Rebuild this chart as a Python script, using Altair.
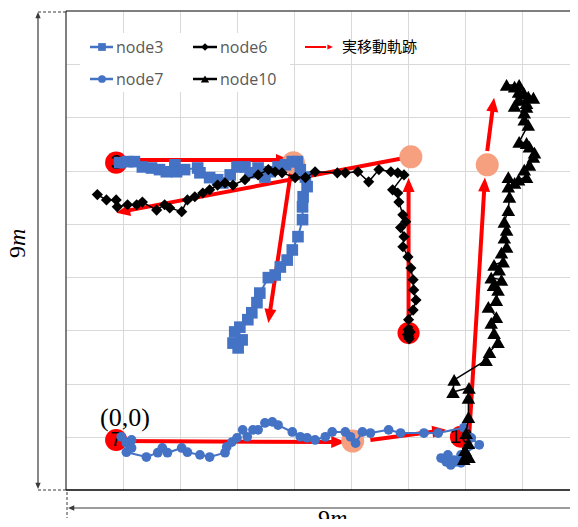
import math
import altair as alt
import pandas as pd

W, H = 504, 479
PXU = 57.0                 # pixels per metre horizontally (grid spacing)
XMAX = W / PXU             # visible part of the 9 m field (right edge is cut by the page)
YMAX = 9

# ---- measured trajectories (metres, grid = 1 m) ----
node3_x = [0.94, 1.08, 1.20, 1.34, 1.50, 1.64, 1.76, 1.91, 1.94, 2.08, 2.31, 2.35, 2.52, 2.66, 2.75,
           2.88, 3.00, 3.14, 3.23, 3.37, 3.49, 3.58, 3.72, 3.85, 3.97, 4.06, 4.11, 4.20, 4.23, 4.16,
           4.15, 4.15, 4.07, 3.97, 3.88, 3.76, 3.67, 3.55, 3.40, 3.35, 3.26, 3.19, 3.05, 2.96, 3.09,
           2.93, 3.02]
node3_y = [6.15, 6.17, 6.17, 6.07, 6.05, 6.02, 5.98, 6.11, 5.98, 6.02, 6.05, 5.96, 5.87, 5.83, 5.77,
           5.92, 6.07, 6.07, 5.96, 6.05, 5.88, 5.98, 6.07, 6.11, 6.17, 6.17, 6.02, 5.88, 5.70, 5.51,
           5.32, 5.08, 4.76, 4.51, 4.32, 4.19, 4.04, 3.99, 3.70, 3.52, 3.33, 3.20, 3.06, 2.97, 2.82,
           2.76, 2.67]

node6_x = [6.02, 5.99, 6.04, 6.01, 6.00, 6.01, 6.09, 6.14, 6.10, 6.09, 6.05, 6.00, 5.91, 5.93, 5.87,
           5.96, 5.91, 5.84, 5.82, 5.73, 5.93, 5.82, 5.70, 5.49, 5.31, 5.12, 4.90, 4.76, 4.37, 4.20,
           4.02, 3.79, 3.67, 3.55, 3.37, 3.14, 2.93, 2.79, 2.66, 2.52, 2.40, 2.26, 2.13, 2.03, 1.82,
           1.73, 1.59, 1.34, 1.24, 1.08, 0.90, 0.88, 0.71, 0.55]
node6_y = [2.84, 2.92, 2.97, 2.88, 3.01, 3.20, 3.38, 3.57, 3.76, 3.95, 4.17, 4.38, 4.57, 4.76, 4.93,
           5.04, 5.17, 5.41, 5.58, 5.64, 5.92, 5.96, 5.98, 6.02, 5.79, 5.98, 5.96, 5.96, 5.98, 5.87,
           5.87, 5.96, 5.98, 6.02, 5.92, 5.83, 5.73, 5.77, 5.73, 5.64, 5.58, 5.51, 5.45, 5.23, 5.30,
           5.36, 5.26, 5.41, 5.36, 5.36, 5.32, 5.45, 5.45, 5.55]

node7_x = [0.97, 1.15, 1.06, 1.15, 1.06, 1.41, 1.61, 1.69, 1.78, 2.03, 2.13, 2.35, 2.52, 2.79, 2.82,
           2.91, 3.00, 3.10, 3.18, 3.28, 3.37, 3.49, 3.62, 3.72, 3.97, 4.11, 4.23, 4.37, 4.55, 4.67,
           4.90, 4.99, 5.08, 5.20, 5.34, 5.66, 5.87, 6.28, 6.53, 6.98, 7.11, 7.25, 6.93, 6.81, 6.70,
           6.58, 6.67, 6.84, 6.75, 6.93, 7.02]
node7_y = [1.00, 0.94, 0.88, 0.79, 0.71, 0.62, 0.70, 0.79, 0.70, 0.79, 0.71, 0.66, 0.62, 0.70, 0.81,
           0.90, 0.98, 1.13, 1.00, 1.13, 1.13, 1.26, 1.28, 1.22, 1.09, 1.00, 0.98, 0.94, 1.00, 1.09,
           1.09, 1.00, 0.88, 1.09, 1.07, 1.13, 1.07, 1.07, 1.07, 1.17, 0.98, 0.85, 0.66, 0.56, 0.66,
           0.60, 0.53, 0.53, 0.47, 0.51, 0.62]

node10_x = [6.98, 7.07, 7.00, 7.02, 7.06, 7.02, 7.06, 7.06, 7.07, 6.79, 6.81, 7.37, 7.43, 7.58, 7.51,
            7.46, 7.55, 7.41, 7.55, 7.58, 7.50, 7.64, 7.46, 7.60, 7.51, 7.67, 7.64, 7.73, 7.69, 7.73,
            7.69, 7.76, 7.78, 7.76, 7.76, 7.87, 7.94, 8.08, 8.04, 8.13, 8.20, 8.22, 8.13, 8.08, 7.95,
            8.11, 8.04, 8.04, 8.08, 7.95, 8.11, 8.20, 8.03, 7.94, 7.87, 7.73, 7.95, 7.87, 8.08]
node10_y = [0.58, 0.62, 0.75, 0.66, 0.88, 1.07, 1.37, 1.73, 1.92, 1.84, 2.07, 2.44, 2.59, 2.78, 2.95,
            3.14, 3.25, 3.44, 3.57, 3.76, 3.85, 3.95, 3.99, 4.14, 4.23, 4.29, 4.46, 4.57, 4.74, 4.89,
            5.04, 5.26, 5.51, 5.70, 5.88, 5.77, 5.83, 5.88, 6.02, 6.11, 6.26, 6.34, 6.45, 6.52, 6.54,
            6.86, 6.96, 7.09, 7.20, 7.33, 7.39, 7.37, 7.46, 7.48, 7.58, 7.61, 7.61, 7.22, 7.27]

# start points (red) and waypoints/ends (salmon)
start_label = ["3", "6", "7", "10"]
start_x = [0.88, 6.01, 0.88, 6.93]
start_y = [6.15, 2.95, 0.94, 1.00]
end_x = [3.99, 6.05, 7.39, 5.03]
end_y = [6.15, 6.26, 6.11, 0.92]

# actual movement arrows (実移動軌跡)
arrow_x0 = [0.88, 3.97, 6.01, 6.05, 0.88, 5.34, 7.07, 7.39]
arrow_y0 = [6.20, 6.15, 2.95, 6.26, 0.92, 0.94, 0.96, 6.37]
arrow_x1 = [3.93, 3.55, 6.01, 0.88, 4.90, 6.67, 7.35, 7.51]
arrow_y1 = [6.20, 3.14, 5.86, 5.21, 0.90, 1.13, 5.87, 7.37]

BLUE = "#4472C4"
RED = "#FF0000"
SALMON = "#F6A07F"
GRID = "#D9D9D9"
DIM = "#3A3A3A"
HEAD = "M0,0L0.6,1.4L-0.6,1.4Z"

xs = alt.Scale(domain=[0, XMAX], nice=False, zero=False)
ys = alt.Scale(domain=[0, YMAX], nice=False, zero=False)
ax = alt.Axis(values=list(range(1, 9)), labels=False, ticks=False, domain=False, grid=True,
              gridColor=GRID, gridWidth=1, title=None)


def X(f="x"):
    return alt.X(f"{f}:Q", scale=xs, axis=ax)


def Y(f="y"):
    return alt.Y(f"{f}:Q", scale=ys, axis=ax)


ONE = pd.DataFrame({"k": [0]})


def C():
    return alt.Chart(ONE)


layers = []

# legend background
layers.append(C().mark_rect(color="white").encode(
    x=alt.value(14), x2=alt.value(224), y=alt.value(22), y2=alt.value(81)))

# frame: top, left, bottom (right edge is outside the page)
layers.append(C().mark_rule(color="black", strokeWidth=1).encode(
    x=alt.value(0), x2=alt.value(W), y=alt.value(0)))
layers.append(C().mark_rule(color="black", strokeWidth=1).encode(
    x=alt.value(0), y=alt.value(0), y2=alt.value(H)))
layers.append(C().mark_rule(color="black", strokeWidth=1.5).encode(
    x=alt.value(0), x2=alt.value(W), y=alt.value(H)))

# arrows
rows = []
for x0, y0, x1, y1 in zip(arrow_x0, arrow_y0, arrow_x1, arrow_y1):
    dxp = (x1 - x0) * PXU
    dyp = (y1 - y0) * H / YMAX
    L = math.hypot(dxp, dyp)
    back = 10
    rows.append({
        "x": x0, "y": y0,
        "x2": x1 - dxp / L * back / PXU,
        "y2": y1 - dyp / L * back * YMAX / H,
        "tx": x1, "ty": y1,
        "ang": math.degrees(math.atan2(dxp, dyp)) % 360,
    })
arr = pd.DataFrame(rows)
layers.append(alt.Chart(arr).mark_rule(color=RED, strokeWidth=4, strokeCap="butt").encode(
    x=X("x"), y=Y("y"), x2="x2:Q", y2="y2:Q"))
layers.append(alt.Chart(arr).mark_point(shape=HEAD, filled=True, size=400, color=RED,
                                        strokeWidth=0, opacity=1).encode(
    x=X("tx"), y=Y("ty"), angle=alt.Angle("ang:Q", scale=None)))

# end / waypoint circles
ends = pd.DataFrame({"x": end_x, "y": end_y})
layers.append(alt.Chart(ends).mark_circle(color=SALMON, size=530, opacity=1).encode(x=X(), y=Y()))

# start circles
starts = pd.DataFrame({"x": start_x, "y": start_y, "t": start_label})
layers.append(alt.Chart(starts).mark_circle(color=RED, size=490, opacity=1).encode(x=X(), y=Y()))
layers.append(alt.Chart(starts).mark_text(font="Liberation Sans", fontSize=20, color="black").encode(
    x=X(), y=Y(), text="t:N"))


def track(xv, yv, color, shape, size, sw):
    df = pd.DataFrame({"x": xv, "y": yv, "i": list(range(len(xv)))})
    base = alt.Chart(df).encode(x=X(), y=Y(), order="i:Q")
    return [base.mark_line(color=color, strokeWidth=sw),
            base.mark_point(shape=shape, size=size, filled=True, color=color, opacity=1,
                            strokeWidth=0)]


layers += track(node3_x, node3_y, BLUE, "square", 135, 2)
layers += track(node7_x, node7_y, BLUE, "circle", 95, 2)
layers += track(node6_x, node6_y, "black", "diamond", 125, 1.5)
layers += track(node10_x, node10_y, "black", "triangle-up", 185, 1.5)

# (0,0) label
layers.append(C().mark_text(text="(0,0)", font="Liberation Serif", fontSize=26,
                            color="black", baseline="middle").encode(
    x=alt.value(59), y=alt.value(407)))

# ---- legend ----
leg = [
    ("node3", BLUE, "square", 24, 47, 36, 36, 60),
    ("node6", "black", "diamond", 127, 151, 139, 36, 60),
    ("node7", BLUE, "circle", 24, 47, 36, 68, 60),
    ("node10", "black", "triangle-up", 127, 151, 139, 68, 70),
]
for name, col, shp, lx0, lx1, mx, ly, ms in leg:
    layers.append(C().mark_rule(color=col, strokeWidth=2.5).encode(
        x=alt.value(lx0), x2=alt.value(lx1), y=alt.value(ly)))
    layers.append(C().mark_point(shape=shp, size=ms, filled=True, color=col, opacity=1,
                                 strokeWidth=0).encode(x=alt.value(mx), y=alt.value(ly)))
    layers.append(C().mark_text(text=name, font="Open Sans", fontSize=16, color="#595959",
                                align="left", baseline="middle").encode(
        x=alt.value(lx1 + 3), y=alt.value(ly + 1)))
layers.append(C().mark_rule(color=RED, strokeWidth=2).encode(
    x=alt.value(239), x2=alt.value(260), y=alt.value(36)))
layers.append(C().mark_point(shape=HEAD, size=64, filled=True, color=RED, opacity=1,
                             strokeWidth=0, angle=90).encode(
    x=alt.value(267), y=alt.value(36)))
layers.append(C().mark_text(text="実移動軌跡", font="Noto Sans CJK JP", fontSize=15,
                            color="black", align="left", baseline="middle").encode(
    x=alt.value(276), y=alt.value(36)))

# ---- 9m dimension marks ----
dash = [3, 2]
layers.append(C().mark_rule(color=DIM, strokeWidth=1, strokeDash=dash).encode(
    x=alt.value(-28), x2=alt.value(0), y=alt.value(1)))
layers.append(C().mark_rule(color=DIM, strokeWidth=1, strokeDash=dash).encode(
    x=alt.value(-28), x2=alt.value(0), y=alt.value(479)))
layers.append(C().mark_rule(color=DIM, strokeWidth=1.2).encode(
    x=alt.value(-28), y=alt.value(4), y2=alt.value(475)))
layers.append(C().mark_point(shape=HEAD, size=80, filled=True, color=DIM, opacity=1,
                             strokeWidth=0, angle=0).encode(x=alt.value(-28), y=alt.value(1)))
layers.append(C().mark_point(shape=HEAD, size=80, filled=True, color=DIM, opacity=1,
                             strokeWidth=0, angle=180).encode(x=alt.value(-28), y=alt.value(478)))
layers.append(C().mark_text(text="9", font="Liberation Serif", fontSize=24, color="black",
                            angle=270, align="right", baseline="alphabetic").encode(
    x=alt.value(-41), y=alt.value(235)))
layers.append(C().mark_text(text="m", font="Liberation Serif", fontSize=24, fontStyle="italic",
                            color="black", angle=270, align="left",
                            baseline="alphabetic").encode(x=alt.value(-41), y=alt.value(235)))

layers.append(C().mark_rule(color=DIM, strokeWidth=1, strokeDash=dash).encode(
    x=alt.value(1), y=alt.value(481), y2=alt.value(507)))
layers.append(C().mark_rule(color=DIM, strokeWidth=1.2).encode(
    x=alt.value(4), x2=alt.value(W), y=alt.value(497)))
layers.append(C().mark_point(shape=HEAD, size=80, filled=True, color=DIM, opacity=1,
                             strokeWidth=0, angle=270).encode(x=alt.value(2), y=alt.value(497)))
layers.append(C().mark_text(text="9", font="Liberation Serif", fontSize=24, color="black",
                            align="right", baseline="alphabetic").encode(
    x=alt.value(264), y=alt.value(515)))
layers.append(C().mark_text(text="m", font="Liberation Serif", fontSize=24, fontStyle="italic",
                            color="black", align="left", baseline="alphabetic").encode(
    x=alt.value(264), y=alt.value(515)))

chart = alt.layer(*layers).properties(
    width=W, height=H,
    autosize=alt.AutoSizeParams(type="none"),
    padding={"left": 58, "top": 3, "right": 0, "bottom": 29},
).configure_view(stroke=None)

chart.save("out.html", embed_options={"renderer": "svg", "actions": False})
